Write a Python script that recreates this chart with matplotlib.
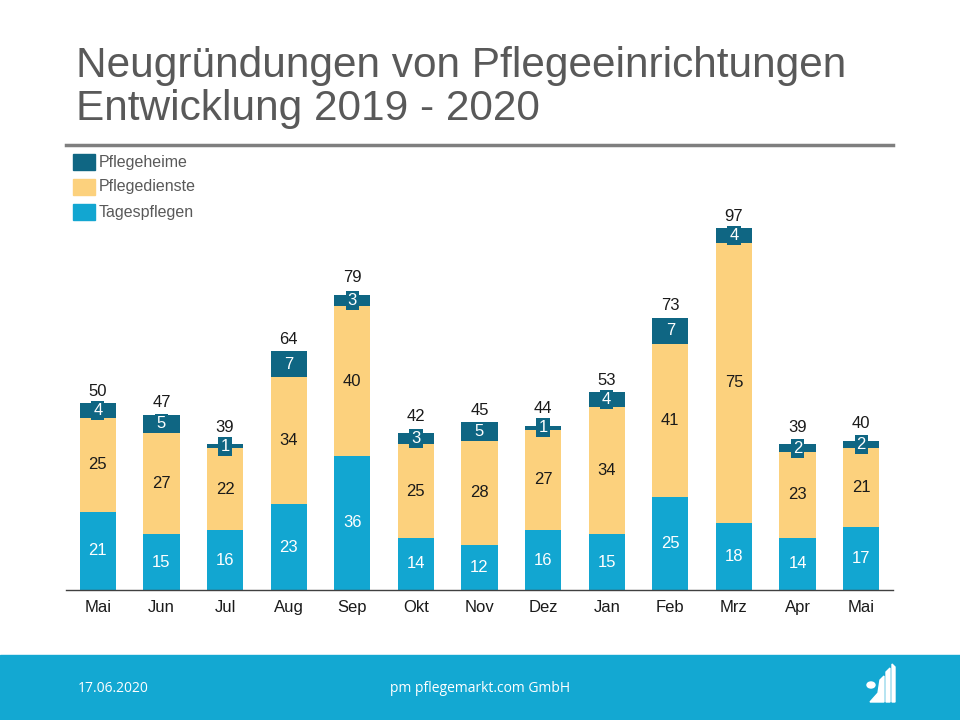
import numpy as np
import matplotlib.pyplot as plt
from matplotlib.patches import Rectangle, Polygon, Circle

months = ["Mai", "Jun", "Jul", "Aug", "Sep", "Okt", "Nov", "Dez",
          "Jan", "Feb", "Mrz", "Apr", "Mai"]
tagespflegen = [21, 15, 16, 23, 36, 14, 12, 16, 15, 25, 18, 14, 17]
pflegedienste = [25, 27, 22, 34, 40, 25, 28, 27, 34, 41, 75, 23, 21]
pflegeheime = [4, 5, 1, 7, 3, 3, 5, 1, 4, 7, 4, 2, 2]

c_heime = "#0F6683"
c_dienste = "#FCD17D"
c_tages = "#12A6D1"
c_grey = "#595959"

plt.rcParams["font.family"] = ["Liberation Sans", "DejaVu Sans"]

fig = plt.figure(figsize=(9.6, 7.2), dpi=100)
ax = fig.add_axes([66 / 960, 1 - 590 / 720, 827 / 960, 390 / 720])

x = np.arange(len(months))
t = np.array(tagespflegen)
d = np.array(pflegedienste)
h = np.array(pflegeheime)
w = 0.57

ax.bar(x, t, w, color=c_tages, label="Tagespflegen")
ax.bar(x, d, w, bottom=t, color=c_dienste, label="Pflegedienste")
ax.bar(x, h, w, bottom=t + d, color=c_heime, label="Pflegeheime")

for i in range(len(x)):
    ax.text(x[i], t[i] / 2, str(t[i]), ha="center", va="center",
            fontsize=12, color="white")
    ax.text(x[i], t[i] + d[i] / 2, str(d[i]), ha="center", va="center",
            fontsize=12, color="#1a1a1a")
    ax.text(x[i], t[i] + d[i] + h[i] / 2, str(h[i]), ha="center", va="center",
            fontsize=12, color="white",
            bbox=dict(boxstyle="square,pad=0.12", fc=c_heime, ec="none"))
    top = t[i] + d[i] + h[i]
    off = 7 if h[i] < 4 else 3
    ax.annotate(str(top), (x[i], top), xytext=(0, off), textcoords="offset points",
                ha="center", va="bottom", fontsize=12, color="#1a1a1a")

ax.set_xlim(-0.5, len(x) - 0.5)
ax.set_ylim(0, 104.5)
ax.set_xticks(x)
ax.set_xticklabels(months, fontsize=12, color="#1a1a1a")
ax.tick_params(axis="x", length=0, pad=7)
ax.set_yticks([])
for s in ["top", "right", "left"]:
    ax.spines[s].set_visible(False)
ax.spines["bottom"].set_color("#404040")
ax.spines["bottom"].set_linewidth(1)

# legend (drawn by hand, matches the slide layout)
leg_items = [("Pflegeheime", c_heime), ("Pflegedienste", c_dienste),
             ("Tagespflegen", c_tages)]
for k, (name, col) in enumerate(leg_items):
    yc = 162 + k * 25
    fig.patches.append(Rectangle((73 / 960, 1 - (yc + 8) / 720), 22 / 960, 16 / 720,
                                 transform=fig.transFigure, color=col))
    fig.text(99 / 960, 1 - yc / 720, name, ha="left", va="center",
             fontsize=11.5, color=c_grey)

# title and rule
fig.text(76 / 960, 1 - 66 / 720, "Neugründungen von Pflegeeinrichtungen",
         ha="left", va="center", fontsize=30.5, color=c_grey)
fig.text(76 / 960, 1 - 109 / 720, "Entwicklung 2019 - 2020",
         ha="left", va="center", fontsize=30.5, color=c_grey)
fig.add_artist(plt.Line2D([66 / 960, 893 / 960], [1 - 145 / 720, 1 - 145 / 720],
                          transform=fig.transFigure, color="#7F7F7F", lw=2.5))

# footer band
fig.patches.append(Rectangle((0, 0), 1, 65 / 720, transform=fig.transFigure,
                             color="#13A8D2"))
fig.text(78 / 960, 1 - 688 / 720, "17.06.2020", ha="left", va="center",
         fontsize=10, color="white", family=["Open Sans", "DejaVu Sans"])
fig.text(480 / 960, 1 - 688 / 720, "pm pflegemarkt.com GmbH", ha="center",
         va="center", fontsize=10, color="white", family=["Open Sans", "DejaVu Sans"])

# logo
def fx(px):
    return px / 960


def fy(py):
    return 1 - py / 720


fig.patches.append(Circle((fx(871), fy(685)), 4 / 960, transform=fig.transFigure,
                          color="white"))
fig.patches.append(Polygon([(fx(870), fy(702)), (fx(878), fy(693)), (fx(880), fy(680)),
                            (fx(884), fy(676)), (fx(884), fy(702))],
                           transform=fig.transFigure, color="white"))
fig.patches.append(Polygon([(fx(886), fy(702)), (fx(886), fy(672)), (fx(890), fy(668)),
                            (fx(890), fy(702))], transform=fig.transFigure, color="white"))
fig.patches.append(Polygon([(fx(892), fy(702)), (fx(892), fy(664)), (fx(895), fy(667)),
                            (fx(895), fy(702))], transform=fig.transFigure, color="white"))

fig.savefig("out.png", dpi=100, facecolor="white")
